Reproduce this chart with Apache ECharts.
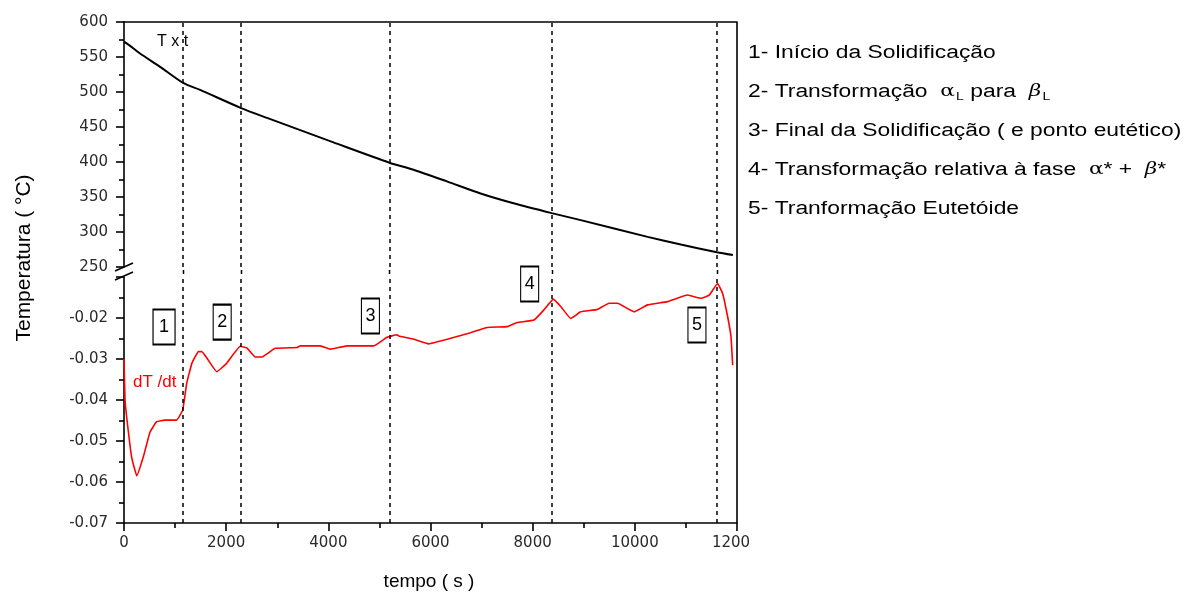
<!DOCTYPE html>
<html>
<head>
<meta charset="utf-8">
<script src="https://cdn.jsdelivr.net/npm/echarts@6/dist/echarts.min.js"></script>
<style>
	html, body { margin: 0; padding: 0; background: #fff; }
	#chart { width: 1186px; height: 592px; }
</style>
</head>
<body>
<div id="chart"></div>
<script>
// cooling curve T x t (top panel)
var timeT = [0, 100, 314, 706, 1157, 1490, 2294, 2800, 4100, 5196, 5667, 6333, 6980, 7627, 8373, 8941, 10250, 10900, 11608, 11920];
var tempT = [572, 567, 555, 536, 513, 503, 477, 463, 428, 399, 389, 372, 355, 341, 327, 317, 293, 282, 271, 267];

// dT/dt curve (bottom panel)
var timeD = [0, 20, 60, 150, 250, 380, 510, 640, 800, 1030, 1150, 1228, 1330, 1458, 1523, 1817, 2013, 2275, 2405, 2569, 2700, 2961, 3386, 3451, 3843, 4039, 4366, 4889, 5150, 5346, 5379, 5673, 5967, 6327, 6784, 7111, 7503, 7699, 8026, 8222, 8405, 8549, 8745, 8941, 9268, 9497, 9660, 9987, 10248, 10640, 11033, 11294, 11457, 11620, 11719, 11817, 11882, 11915];
var rateD = [-0.030, -0.040, -0.045, -0.054, -0.0585, -0.0538, -0.0478, -0.0453, -0.0449, -0.0449, -0.0424, -0.0359, -0.031, -0.0282, -0.0282, -0.0331, -0.031, -0.0269, -0.0273, -0.0295, -0.0295, -0.0274, -0.0272, -0.0268, -0.0268, -0.0276, -0.0268, -0.0268, -0.0247, -0.0241, -0.0244, -0.0252, -0.0263, -0.0252, -0.0236, -0.0223, -0.0221, -0.0211, -0.0205, -0.018, -0.0154, -0.0172, -0.0201, -0.0185, -0.0179, -0.0164, -0.0164, -0.0185, -0.0168, -0.016, -0.0144, -0.0152, -0.0144, -0.0116, -0.014, -0.0197, -0.0245, -0.0315];

// transformation events (dashed lines) and numbered boxes
var eventT = [1157, 2294, 5196, 8373, 11608];
var boxLabels = ["1", "2", "3", "4", "5"];
var boxT = [784, 1922, 4824, 7941, 11216];
var boxV = [-0.0222, -0.021, -0.0195, -0.0117, -0.0217];

var legendLines = [
	"1- Início da Solidificação",
	"2- Transformação  {g|α}{s|L} para  {b|β}{s|L}",
	"3- Final da Solidificação ( e ponto eutético)",
	"4- Transformação relativa à fase  {g|α}* +  {b|β}*",
	"5- Tranformação Eutetóide"
];

var L = 124, R = 737, TOP = 22, MID1 = 267, MID2 = 277, BOT = 523;

var chart = echarts.init(document.getElementById("chart"), null, { renderer: "canvas" });

var tickFont = {
	fontFamily: "DejaVu Sans",
	fontSize: 15,
	color: "#2a2a2a"
};

var axisLineStyle = { color: "#000", width: 1.6 };
var dashStyle = { color: "#000", type: [4, 4], width: 1.5 };

var dashLine = function(ts) {
	return {
		silent: true,
		symbol: ["none", "none"],
		label: { show: false },
		lineStyle: dashStyle,
		data: ts.map(function(t) { return { xAxis: t }; })
	};
};

var legendGraphics = legendLines.map(function(s, i) {
	var ys = [53, 92, 131, 170, 209];
	return {
		type: "text",
		x: 748,
		y: ys[i],
		scaleX: 1.27,
		style: {
			text: s,
			font: "18px 'Liberation Sans'",
			fill: "#000",
			verticalAlign: "middle",
			rich: {
				g: { fontSize: 17, fontFamily: "DejaVu Serif", fill: "#000" },
				b: { fontSize: 17, fontFamily: "DejaVu Serif", fontStyle: "italic", fill: "#000" },
				s: { fontSize: 11, fontFamily: "Liberation Sans", fill: "#000", padding: [9, 0, 0, 1] }
			}
		}
	};
});

var opt = {
	animation: false,
	grid: [
		{ left: L, top: TOP, width: R - L, height: MID1 - TOP },
		{ left: L, top: MID2, width: R - L, height: BOT - MID2 }
	],
	xAxis: [
		{
			type: "value",
			gridIndex: 0,
			position: "top",
			min: 0,
			max: 12000,
			interval: 2000,
			axisLine: { show: true, lineStyle: axisLineStyle },
			axisTick: { show: false },
			axisLabel: { show: false },
			splitLine: { show: false }
		},
		{
			type: "value",
			gridIndex: 1,
			min: 0,
			max: 12000,
			interval: 2000,
			axisLine: { show: true, onZero: false, lineStyle: axisLineStyle },
			axisTick: { show: true, length: 8, lineStyle: axisLineStyle },
			minorTick: { show: true, splitNumber: 2, length: 5, lineStyle: axisLineStyle },
			axisLabel: Object.assign({
				margin: 13,
				formatter: function(v) {
					return v === 12000 ? "{e|1200}" : String(v);
				},
				rich: { e: { fontFamily: "DejaVu Sans", fontSize: 15, color: "#2a2a2a", padding: [0, 12, 0, 0] } }
			}, tickFont),
			splitLine: { show: false }
		}
	],
	yAxis: [
		{
			type: "value",
			gridIndex: 0,
			min: 250,
			max: 600,
			interval: 50,
			axisLine: { show: true, lineStyle: axisLineStyle },
			axisTick: { show: true, length: 8, lineStyle: axisLineStyle },
			minorTick: { show: true, splitNumber: 2, length: 5, lineStyle: axisLineStyle },
			axisLabel: Object.assign({ margin: 16 }, tickFont),
			splitLine: { show: false }
		},
		{
			type: "value",
			gridIndex: 1,
			min: -0.07,
			max: -0.01,
			interval: 0.01,
			axisLine: { show: true, onZero: false, lineStyle: axisLineStyle },
			axisTick: { show: true, length: 8, lineStyle: axisLineStyle },
			minorTick: { show: true, splitNumber: 2, length: 5, lineStyle: axisLineStyle },
			axisLabel: Object.assign({
				margin: 16,
				formatter: function(v) {
					return v > -0.015 ? "" : v.toFixed(2);
				}
			}, tickFont),
			splitLine: { show: false }
		}
	],
	series: [
		{
			name: "T x t",
			type: "line",
			xAxisIndex: 0,
			yAxisIndex: 0,
			showSymbol: false,
			smooth: 0.25,
			lineStyle: { color: "#000", width: 2 },
			data: timeT.map(function(t, i) { return [t, tempT[i]]; }),
			markLine: dashLine(eventT)
		},
		{
			name: "dT/dt",
			type: "line",
			xAxisIndex: 1,
			yAxisIndex: 1,
			showSymbol: false,
			smooth: 0.1,
			lineStyle: { color: "#ff0000", width: 1.6 },
			data: timeD.map(function(t, i) { return [t, rateD[i]]; }),
			markLine: dashLine(eventT),
			markPoint: {
				silent: true,
				symbol: "rect",
				itemStyle: { color: "#fff", borderColor: "#000", borderWidth: 1.5 },
				label: {
					show: true,
					color: "#000",
					fontFamily: "Liberation Sans",
					fontSize: 18,
					formatter: function(p) { return p.name; }
				},
				data: boxLabels.map(function(n, i) {
					return {
						name: n,
						coord: [boxT[i], boxV[i]],
						symbolSize: [i === 0 ? 22 : 18, 35]
					};
				})
			}
		}
	],
	graphic: [
		// right border
		{ type: "line", shape: { x1: R, y1: TOP, x2: R, y2: BOT }, style: { stroke: "#000", lineWidth: 1.6 } },
		// axis break marks
		{ type: "line", shape: { x1: 115, y1: 271, x2: 133, y2: 263 }, style: { stroke: "#000", lineWidth: 1.5 } },
		{ type: "line", shape: { x1: 115, y1: 280, x2: 133, y2: 272 }, style: { stroke: "#000", lineWidth: 1.5 } },
		{
			type: "text", x: 157, y: 42,
			style: { text: "T x t", font: "16px 'Liberation Sans'", fill: "#000", verticalAlign: "middle" }
		},
		{
			type: "text", x: 133, y: 382,
			style: { text: "dT /dt", font: "17px 'Liberation Sans'", fill: "#ff0000", verticalAlign: "middle" }
		},
		{
			type: "text", x: 24, y: 258, rotation: Math.PI / 2,
			style: { text: "Temperatura ( °C)", font: "21px 'Liberation Sans'", fill: "#000", align: "center", verticalAlign: "middle" }
		},
		{
			type: "text", x: 429, y: 582,
			style: { text: "tempo ( s )", font: "19px 'Liberation Sans'", fill: "#000", align: "center", verticalAlign: "middle" }
		}
	].concat(legendGraphics)
};

chart.setOption(opt);

// bridge the dashed event lines across the axis break
var bridges = eventT.map(function(t) {
	var px = Math.round(chart.convertToPixel({ xAxisIndex: 1 }, t)) + 0.5;
	return {
		type: "line",
		shape: { x1: px, y1: MID1 + 3, x2: px, y2: MID1 + 7 },
		style: { stroke: "#000", lineWidth: 1.5 }
	};
});
chart.setOption({ graphic: opt.graphic.concat(bridges) });
</script>
</body>
</html>
